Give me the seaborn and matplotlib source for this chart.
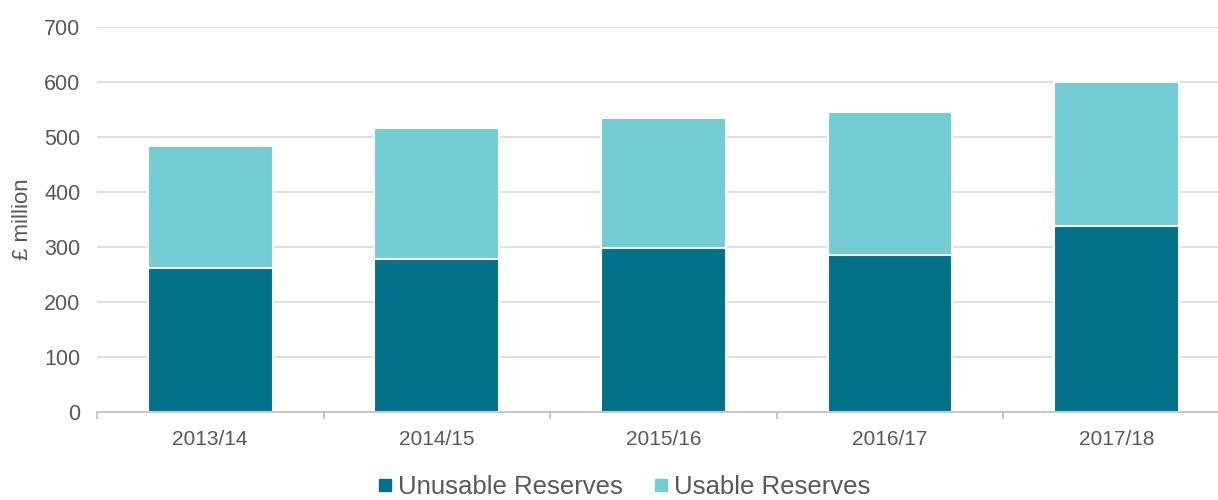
import matplotlib
matplotlib.use("Agg")
import matplotlib.pyplot as plt
import seaborn as sns
import pandas as pd
import numpy as np
from matplotlib.lines import Line2D

years = ["2013/14", "2014/15", "2015/16", "2016/17", "2017/18"]
unusable = [262, 278, 299, 285, 339]
usable = [222, 238, 236, 260, 261]

sns.set_style("white")
plt.rcParams['font.family'] = ['Liberation Sans', 'DejaVu Sans']

df = pd.DataFrame({"year": years, "unusable": unusable, "usable": usable})
df["total"] = df["unusable"] + df["usable"]

dark = "#007189"
light = "#74CCD3"
grey_txt = "#595959"

fig = plt.figure(figsize=(12.18, 5), dpi=100)
ax = fig.add_axes([0.0796, 0.176, 0.93, 0.77])

sns.barplot(data=df, x="year", y="total", color=light, width=0.55,
            edgecolor="white", linewidth=1.5, ax=ax, saturation=1)
sns.barplot(data=df, x="year", y="unusable", color=dark, width=0.55,
            edgecolor="white", linewidth=1.5, ax=ax, saturation=1)

ax.set_ylim(0, 700)
ax.set_yticks(np.arange(0, 701, 100))
ax.set_xlim(-0.5, 4.5)
ax.yaxis.grid(True, color="#D9D9D9", linewidth=1.2)
ax.set_axisbelow(True)
for s in ["top", "right", "left"]:
    ax.spines[s].set_visible(False)
ax.spines["bottom"].set_color("#BFBFBF")
ax.spines["bottom"].set_linewidth(1.2)

ax.set_xticks(np.arange(-0.5, 5.0, 1.0), minor=True)
ax.tick_params(axis="x", which="minor", length=5, color="#BFBFBF", width=1.2, direction="out", bottom=True)
ax.tick_params(axis="x", which="major", length=0, pad=13, labelsize=15, labelcolor=grey_txt)
ax.tick_params(axis="y", length=0, pad=12, labelsize=15.5, labelcolor=grey_txt)

ax.set_xlabel("")
ax.set_ylabel("£ million", fontsize=16, color=grey_txt, labelpad=8)

handles = [Line2D([0], [0], marker="s", linestyle="none", markersize=8, markerfacecolor=dark, markeredgecolor=dark),
           Line2D([0], [0], marker="s", linestyle="none", markersize=8, markerfacecolor=light, markeredgecolor=light)]
fig.legend(handles, ["Unusable Reserves", "Usable Reserves"], loc="center", bbox_to_anchor=(0.51, 0.026),
           ncol=2, frameon=False, fontsize=18.5, handletextpad=0.0, columnspacing=1.0,
           handlelength=1.0, labelcolor=grey_txt)

fig.savefig("out.png", dpi=100)
